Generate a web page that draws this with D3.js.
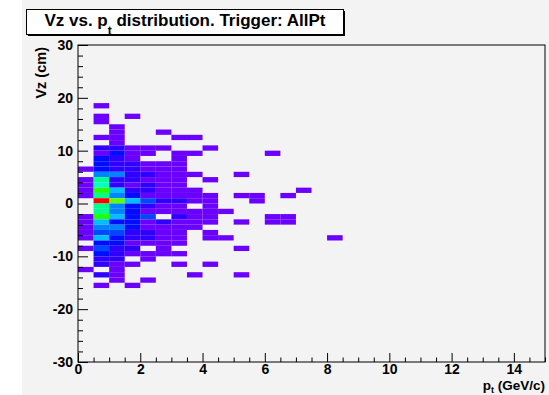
<!DOCTYPE html>
<html lang="en">
<head>
<meta charset="UTF-8">
<title>Vz vs. pt distribution</title>
<script src="https://cdnjs.cloudflare.com/ajax/libs/d3/7.9.0/d3.min.js"></script>
<style>
  body { margin: 0; background: #ffffff; }
  svg { display: block; font-family: "Liberation Sans", Arial, sans-serif; }
  .axis text { font-size: 14px; font-weight: bold; fill: #000; }
  .axis line { stroke: #000; }
</style>
</head>
<body>
<div id="chart"></div>
<script>
// bin lower edges (pt in GeV/c, Vz in cm)
const ptLow = [0, 0.5, 1, 1.5, 2, 2.5, 3, 3.5, 4, 4.5, 5, 5.5, 6, 6.5, 7, 7.5, 8, 8.5];
const vzLow = [18, 17, 16, 15, 14, 13, 12, 11, 10, 9, 8, 7, 6, 5, 4, 3, 2, 1, 0,
               -1, -2, -3, -4, -5, -6, -7, -8, -9, -10, -11, -12, -13, -14, -15, -16];

// entries per cell, one row per Vz bin (top to bottom), one column per pt bin
const counts = [
  [0, 1, 0, 0, 0, 0, 0, 0, 0, 0, 0, 0, 0, 0, 0, 0, 0, 0],
  [0, 0, 0, 0, 0, 0, 0, 0, 0, 0, 0, 0, 0, 0, 0, 0, 0, 0],
  [0, 1, 0, 1, 0, 0, 0, 0, 0, 0, 0, 0, 0, 0, 0, 0, 0, 0],
  [0, 1, 0, 0, 0, 0, 0, 0, 0, 0, 0, 0, 0, 0, 0, 0, 0, 0],
  [0, 0, 1, 0, 0, 0, 0, 0, 0, 0, 0, 0, 0, 0, 0, 0, 0, 0],
  [0, 0, 1, 0, 0, 1, 0, 0, 0, 0, 0, 0, 0, 0, 0, 0, 0, 0],
  [0, 1, 1, 0, 0, 0, 1, 1, 0, 0, 0, 0, 0, 0, 0, 0, 0, 0],
  [0, 0, 1, 0, 0, 0, 0, 0, 0, 0, 0, 0, 0, 0, 0, 0, 0, 0],
  [0, 2, 2, 1, 1, 1, 0, 0, 1, 0, 0, 0, 0, 0, 0, 0, 0, 0],
  [0, 1, 3, 1, 1, 0, 1, 1, 0, 0, 0, 0, 1, 0, 0, 0, 0, 0],
  [0, 3, 2, 1, 0, 0, 1, 0, 0, 0, 0, 0, 0, 0, 0, 0, 0, 0],
  [0, 3, 2, 2, 1, 1, 1, 0, 0, 0, 0, 0, 0, 0, 0, 0, 0, 0],
  [1, 3, 2, 2, 1, 1, 1, 0, 0, 0, 0, 0, 0, 0, 0, 0, 0, 0],
  [0, 5, 5, 2, 2, 1, 1, 1, 0, 0, 1, 0, 0, 0, 0, 0, 0, 0],
  [1, 9, 2, 2, 1, 1, 1, 0, 1, 0, 0, 0, 0, 0, 0, 0, 0, 0],
  [1, 8, 2, 1, 2, 1, 1, 0, 0, 0, 0, 0, 0, 0, 0, 0, 0, 0],
  [1, 12, 6, 2, 2, 1, 1, 1, 0, 0, 0, 0, 0, 0, 1, 0, 0, 0],
  [1, 9, 5, 3, 1, 1, 1, 1, 1, 0, 1, 1, 0, 1, 0, 0, 0, 0],
  [0, 20, 13, 6, 4, 2, 2, 1, 1, 0, 0, 1, 0, 0, 0, 0, 0, 0],
  [0, 9, 5, 3, 2, 1, 1, 0, 1, 0, 0, 0, 0, 0, 0, 0, 0, 0],
  [0, 9, 5, 3, 1, 1, 1, 1, 1, 1, 0, 0, 0, 0, 0, 0, 0, 0],
  [1, 12, 6, 3, 4, 0, 2, 1, 1, 0, 0, 0, 1, 1, 0, 0, 0, 0],
  [1, 6, 3, 3, 1, 2, 1, 1, 1, 0, 1, 0, 1, 1, 0, 0, 0, 0],
  [1, 5, 5, 3, 1, 1, 1, 1, 0, 0, 0, 0, 0, 0, 0, 0, 0, 0],
  [1, 4, 4, 2, 2, 1, 1, 0, 1, 0, 0, 0, 0, 0, 0, 0, 0, 0],
  [1, 6, 3, 2, 2, 1, 1, 0, 1, 1, 0, 0, 0, 0, 0, 0, 1, 0],
  [0, 3, 3, 1, 1, 1, 1, 0, 0, 0, 0, 0, 0, 0, 0, 0, 0, 0],
  [1, 4, 2, 2, 0, 1, 0, 0, 0, 0, 1, 0, 0, 0, 0, 0, 0, 0],
  [0, 3, 2, 1, 1, 1, 1, 0, 0, 0, 0, 0, 0, 0, 0, 0, 0, 0],
  [0, 2, 2, 0, 1, 0, 0, 0, 0, 0, 0, 0, 0, 0, 0, 0, 0, 0],
  [0, 2, 1, 1, 0, 0, 1, 0, 1, 0, 0, 0, 0, 0, 0, 0, 0, 0],
  [1, 0, 1, 0, 0, 0, 0, 0, 0, 0, 0, 0, 0, 0, 0, 0, 0, 0],
  [0, 2, 1, 0, 0, 0, 0, 1, 0, 0, 1, 0, 0, 0, 0, 0, 0, 0],
  [0, 0, 1, 0, 1, 0, 0, 0, 0, 0, 0, 0, 0, 0, 0, 0, 0, 0],
  [0, 1, 0, 1, 0, 0, 0, 0, 0, 0, 0, 0, 0, 0, 0, 0, 0, 0]
];

const xTicks = [0, 2, 4, 6, 8, 10, 12, 14];
const yTicks = [-30, -20, -10, 0, 10, 20, 30];
const ptBinWidth = 0.5, vzBinWidth = 1;

const width = 549, height = 395;
const frame = { left: 78, right: 545, top: 45, bottom: 362 };

const svg = d3.select("#chart").append("svg")
    .attr("width", width)
    .attr("height", height);

// canvas background
svg.append("rect")
    .attr("x", 22).attr("y", 0)
    .attr("width", width - 22).attr("height", height)
    .attr("fill", "#f3f3f3");

const x = d3.scaleLinear().domain([0, 15]).range([frame.left, frame.right]);
const y = d3.scaleLinear().domain([-30, 30]).range([frame.bottom, frame.top]);

// rainbow palette, violet (low) to red (high)
const maxCount = d3.max(counts, r => d3.max(r));
const color = v => d3.hsl(265 * (1 - (v - 1) / (maxCount - 1)), 1, 0.5).toString();

const cells = [];
counts.forEach((row, i) => row.forEach((v, j) => {
    if (v > 0) cells.push({ pt: ptLow[j], vz: vzLow[i], v: v });
}));

svg.append("g").selectAll("rect")
    .data(cells)
    .enter()
    .append("rect")
    .attr("x", d => x(d.pt))
    .attr("y", d => y(d.vz + vzBinWidth))
    .attr("width", d => x(d.pt + ptBinWidth) - x(d.pt))
    .attr("height", d => y(d.vz) - y(d.vz + vzBinWidth))
    .attr("fill", d => color(d.v));

const plain = d => String(d); // ROOT style labels with a plain hyphen

// x axis, ticks pointing into the frame
const xMinor = d3.range(0, 15.01, 0.5).filter(t => t % 2 !== 0);
svg.append("g")
    .attr("class", "axis")
    .attr("transform", `translate(0,${frame.bottom})`)
    .call(d3.axisBottom(x).tickValues(xMinor).tickSize(-4.5).tickFormat(""))
    .call(g => g.select(".domain").remove());
svg.append("g")
    .attr("class", "axis")
    .attr("transform", `translate(0,${frame.bottom})`)
    .call(d3.axisBottom(x).tickValues(xTicks).tickSize(-9).tickPadding(2).tickFormat(plain))
    .call(g => g.select(".domain").remove());

// y axis
const yMinor = d3.range(-30, 30.01, 2).filter(t => t % 10 !== 0);
svg.append("g")
    .attr("class", "axis")
    .attr("transform", `translate(${frame.left},0)`)
    .call(d3.axisLeft(y).tickValues(yMinor).tickSize(-5).tickFormat(""))
    .call(g => g.select(".domain").remove());
svg.append("g")
    .attr("class", "axis")
    .attr("transform", `translate(${frame.left},0)`)
    .call(d3.axisLeft(y).tickValues(yTicks).tickSize(-10).tickPadding(5).tickFormat(plain))
    .call(g => g.select(".domain").remove());

// frame
svg.append("rect")
    .attr("x", frame.left).attr("y", frame.top)
    .attr("width", frame.right - frame.left)
    .attr("height", frame.bottom - frame.top)
    .attr("fill", "none")
    .attr("stroke", "#000");

// axis titles
svg.append("text")
    .attr("transform", `translate(46,${frame.top + 2}) rotate(-90)`)
    .attr("text-anchor", "end")
    .style("font-size", "14.5px").style("font-weight", "bold")
    .text("Vz (cm)");

const xt = svg.append("text")
    .attr("x", frame.right).attr("y", 390)
    .attr("text-anchor", "end")
    .style("font-size", "13.5px").style("font-weight", "bold");
xt.append("tspan").text("p");
xt.append("tspan").attr("dy", 3).style("font-size", "9px").text("t");
xt.append("tspan").attr("dy", -3).text(" (GeV/c)");

// title box with shadow
svg.append("rect").attr("x", 28).attr("y", 11).attr("width", 317).attr("height", 25).attr("fill", "#000");
svg.append("rect").attr("x", 26.5).attr("y", 9.5).attr("width", 317).attr("height", 25)
    .attr("fill", "#fff").attr("stroke", "#000");

const title = svg.append("text")
    .attr("x", 185).attr("y", 26)
    .attr("text-anchor", "middle")
    .style("font-size", "17px").style("font-weight", "bold");
title.append("tspan").text("Vz vs. p");
title.append("tspan").attr("dy", 9).style("font-size", "12px").text("t");
title.append("tspan").attr("dy", -9).text(" distribution. Trigger: AllPt");
</script>
</body>
</html>
